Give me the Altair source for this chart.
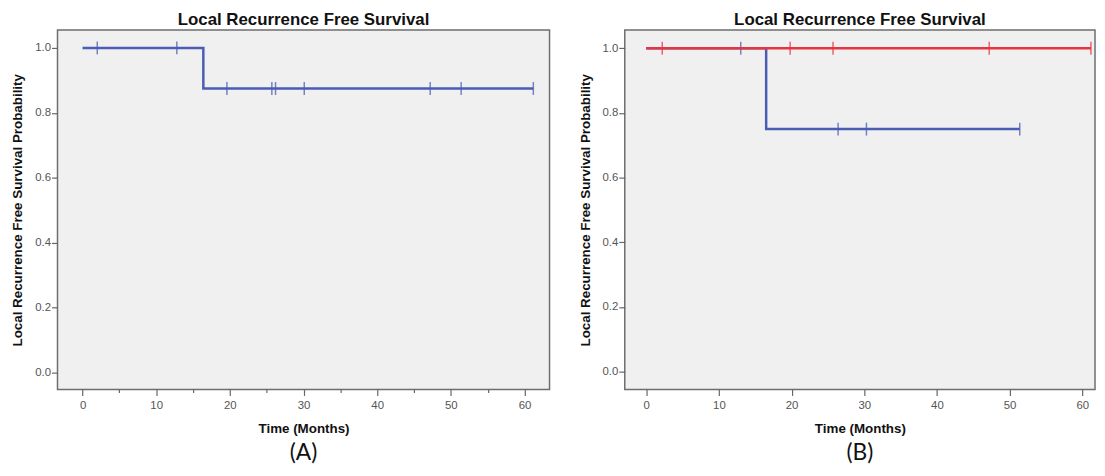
import altair as alt
import pandas as pd

# ---------------- data ----------------
# Panel A : single group
a_time = [0.0, 16.4, 61.2]
a_surv = [1.0, 0.875, 0.875]
a_cens_time = [2.0, 12.8, 19.6, 25.7, 26.2, 30.1, 47.2, 51.4, 61.2]
a_cens_surv = [1.0, 1.0, 0.875, 0.875, 0.875, 0.875, 0.875, 0.875, 0.875]

# Panel B : two groups (blue drawn first, red on top)
b_blue_time = [0.0, 16.5, 51.4]
b_blue_surv = [1.0, 0.75, 0.75]
b_blue_cens_time = [13.0, 26.4, 30.3, 51.4]
b_blue_cens_surv = [1.0, 0.75, 0.75, 0.75]

b_red_time = [0.0, 61.2]
b_red_surv = [1.0, 1.0]
b_red_cens_time = [2.2, 19.8, 25.7, 47.2, 61.2]
b_red_cens_surv = [1.0, 1.0, 1.0, 1.0, 1.0]

x_ticks = list(range(0, 61, 5))
y_ticks = [round(i / 10, 1) for i in range(0, 11)]

TITLE = "Local Recurrence Free Survival"
X_TITLE = "Time (Months)"
Y_TITLE = "Local Recurrence Free Survival Probability"

BLUE = "#4a5cb4"
RED = "#e8343e"
FONT = "Liberation Sans"


def make_panel(groups, width, height, xdom, ydom, label):
    xs = alt.Scale(domain=xdom, nice=False, zero=False)
    ys = alt.Scale(domain=ydom, nice=False, zero=False)
    xax = alt.Axis(
        values=x_ticks,
        labelExpr="datum.value % 10 === 0 ? datum.label : ''",
        tickSize={"condition": {"test": "datum.value % 10 !== 0", "value": 3}, "value": 6},
        title=X_TITLE,
        labelPadding=4,
        titlePadding=11,
    )
    yax = alt.Axis(
        values=y_ticks,
        format=".1f",
        labelExpr="round(datum.value * 10) % 2 === 0 ? datum.label : ''",
        tickSize={"condition": {"test": "round(datum.value * 10) % 2 !== 0", "value": 3}, "value": 6},
        title=Y_TITLE,
        labelPadding=1,
        titlePadding=10,
    )
    layers = []
    first = True
    for (t, s, ct, cs, col) in groups:
        df = pd.DataFrame({"t": t, "s": s})
        dc = pd.DataFrame({"t": ct, "s": cs})
        line = alt.Chart(df).mark_line(interpolate="step-after", color=col, strokeWidth=2.5).encode(
            x=alt.X("t:Q", scale=xs, axis=xax) if first else alt.X("t:Q", scale=xs),
            y=alt.Y("s:Q", scale=ys, axis=yax) if first else alt.Y("s:Q", scale=ys),
        )
        cens = alt.Chart(dc).mark_tick(orient="vertical", size=13, thickness=1.5, color=col, opacity=0.75).encode(
            x=alt.X("t:Q", scale=xs),
            y=alt.Y("s:Q", scale=ys),
        )
        layers += [line, cens]
        first = False
    lab = alt.Chart(pd.DataFrame({"lab": [label]})).mark_text(
        font="Lato", fontSize=23, color="#111", baseline="middle", align="center"
    ).encode(
        text="lab:N",
        x=alt.value(width / 2),
        y=alt.value(height + 64),
    )
    layers.append(lab)
    return alt.layer(*layers).properties(
        width=width,
        height=height,
        title=alt.TitleParams(TITLE, fontSize=17, font=FONT, fontWeight="bold", color="#111", offset=1, anchor="middle"),
    )


panel_a = make_panel(
    [(a_time, a_surv, a_cens_time, a_cens_surv, BLUE)],
    497, 363, [-3.4, 63.4], [-0.053, 1.055], "(A)",
)
panel_b = make_panel(
    [
        (b_blue_time, b_blue_surv, b_blue_cens_time, b_blue_cens_surv, BLUE),
        (b_red_time, b_red_surv, b_red_cens_time, b_red_cens_surv, RED),
    ],
    475, 363, [-2.96, 61.76], [-0.055, 1.056], "(B)",
)

chart = alt.hconcat(panel_a, panel_b, spacing=27).properties(
    padding={"left": 2, "top": 0, "right": 0, "bottom": 0}
).configure_axis(
    labelFont=FONT,
    labelFontSize=11.5,
    labelColor="#555",
    titleFont=FONT,
    titleFontSize=13.5,
    titleFontWeight="bold",
    titleColor="#111",
    tickColor="#666",
    tickWidth=1.2,
    domain=False,
    grid=False,
).configure_view(
    fill="#f0f0f0",
    stroke="#6e6e6e",
    strokeWidth=1.5,
).configure_concat(spacing=27)

chart.save("out.html", embed_options={"renderer": "svg", "actions": False})
